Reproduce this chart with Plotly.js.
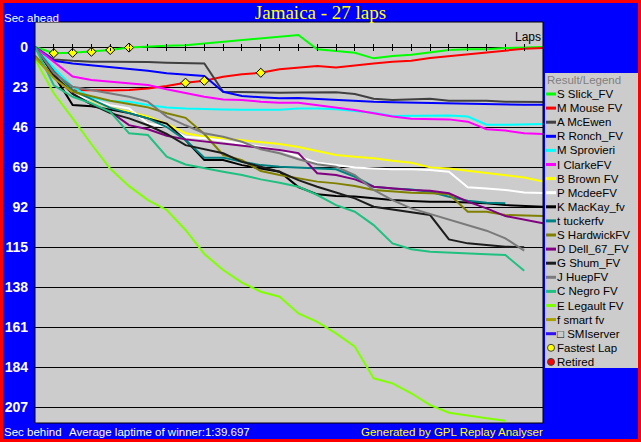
<!DOCTYPE html>
<html>
<head>
<meta charset="utf-8">
<script src="https://cdn.plot.ly/plotly-3.0.1.min.js"></script>
<style>
  html, body { margin: 0; padding: 0; background: #ff0000; overflow: hidden; }
  #chart { position: absolute; left: 3px; top: 3px; width: 635px; height: 436px; }
</style>
</head>
<body>
<div id="chart"></div>
<script>
// laps 0..27, values are seconds behind the winner's average pace (negative = ahead)
var laps = [0, 1, 2, 3, 4, 5, 6, 7, 8, 9, 10, 11, 12, 13, 14, 15, 16, 17, 18, 19, 20, 21, 22, 23, 24, 25, 26, 27];
var lapTicks = [1, 2, 3, 4, 5, 6, 7, 8, 9, 10, 11, 12, 13, 14, 15, 16, 17, 18, 19, 20, 21, 22, 23, 24, 25, 26];
var secTicks = [0, 23, 46, 69, 92, 115, 138, 161, 184, 207];

var drivers = ["S Slick_FV", "M Mouse FV", "A McEwen", "R Ronch_FV", "M Sprovieri", "I ClarkeFV",
  "B Brown FV", "P McdeeFV", "K MacKay_fv", "t tuckerfv", "S HardwickFV", "D Dell_67_FV",
  "G Shum_FV", "J HuepFV", "C Negro FV", "E Legault FV", "f smart fv", "\u25a1 SMIserver"];
var colors = ["#00ff00", "#ff0000", "#404040", "#0000ff", "#00ffff", "#ff00ff",
  "#ffff00", "#ffffff", "#000000", "#008080", "#808000", "#800080",
  "#1c1c1c", "#7a7a7a", "#20c080", "#80ff00", "#a8a000", "#3010f0"];

var slick = [0, 3.5, 3.3, 2.7, 1.7, 0.3, 0, -0.7, -1.1, -2.1, -2.9, -4, -5, -6.3, -6.9, 1.3, 2.5, 3.3, 6.5, 5.2, 4.4, 2.9, 1.7, 1.3, 1.2, 0.6, 0.2, 0];
var mouse = [0, 14, 24.7, 25, 25, 24.7, 23.8, 22.4, 20.5, 19.4, 17.1, 15.7, 14.8, 12.8, 11.9, 10.9, 11.7, 10.4, 9.4, 8.4, 7.9, 6.3, 5.2, 4, 2.9, 1.7, 1, 0.6];
var mcewen = [0, 7.1, 7.9, 8.4, 8.4, 8.4, 8.6, 9, 9.4, 9.4, 25.7, 26, 26.3, 26.3, 26.1, 26, 26, 27, 29.7, 30.5, 30, 29.7, 30.9, 30.9, 30.9, 31.4, 31.6, 31.6];
var ronch = [0, 7.9, 9.4, 10.4, 11.3, 12.3, 13.6, 15.1, 16.1, 16.7, 25.7, 28.2, 28.9, 29.5, 29.3, 29.9, 30.5, 31, 31.5, 31.8, 32, 32.2, 32.4, 32.8, 33.2, 33.2, 33.2, 33.2];
var sprovieri = [0, 12, 23, 29, 31, 31.4, 33.3, 34.7, 35.3, 35.7, 35.9, 36, 36, 36, 35.3, 35.3, 35.8, 36.6, 37.8, 39.7, 39.7, 39.7, 39.3, 40, 44.7, 44.7, 44.7, 44.3];
var clarke = [0, 8.4, 17, 19, 19.9, 20.9, 21.8, 24.3, 26.3, 28.6, 30.1, 30.5, 31.4, 32, 32, 33.3, 34.7, 36.2, 38.1, 40, 41.2, 41.4, 41.6, 42.9, 47.3, 48, 49.6, 50];
var brown = [0, 15, 25, 30.5, 35, 37.2, 40, 44, 49.6, 51.6, 52.5, 53.5, 54.5, 55.8, 57.5, 60, 62.1, 63.1, 64, 65.4, 66.5, 69.2, 69.8, 71.1, 72.3, 73.6, 75, 77.4];
var mcdee = [0, 15, 27.6, 30.1, 33.4, 35.3, 44, 46, 51.6, 52.5, 53.9, 55.4, 57.3, 59.2, 63, 66.5, 67.9, 69.2, 69.8, 70.3, 70.3, 70.7, 71.7, 80.7, 81.3, 82.2, 83.6, 84];
var mackay = [0, 16, 33.4, 34, 36, 38, 41, 44, 53.5, 65, 65, 67.9, 69.8, 71.7, 80.5, 84.7, 85.7, 86, 87, 88, 88.5, 89, 89, 89.5, 89.9, 90.9, 91.3, 91.8];
var tucker = [0, 14, 25, 30, 35, 38, 41, 46, 53.5, 63.6, 63.6, 66, 67.9, 68.8, 69.4, 69.6, 70.3, 74.6, 80.3, 81.3, 81.9, 83.2, 86.1, 88.4, 89.5, 89.9];
var hardwick = [5, 17, 25.7, 28.2, 30.9, 32.8, 34.7, 38.1, 40.7, 50, 62.1, 65, 71.3, 73.6, 75.5, 77.4, 78.4, 79.9, 82.2, 83.2, 83.8, 84.1, 84.5, 94.7, 94.7, 96.6, 96.8, 97.2];
var dell = [0, 16, 27, 33, 37.2, 44.9, 47.3, 51, 53.1, 54.4, 55.4, 56.7, 57.9, 59.2, 61, 72.6, 73.6, 76.1, 80.3, 81.3, 82.2, 82.6, 84.1, 88.9, 92.8, 97.2, 99.1, 101.4];
var shum = [0, 16, 27, 33, 38, 41, 45, 50, 56.4, 58.9, 61.1, 66, 68.8, 71.7, 76.5, 80.3, 83.6, 87, 91.8, 93.3, 94.9, 96.6, 110.6, 112.9, 113.8, 114.8, 115.2];
var huep = [0, 15, 22.8, 24.7, 26.6, 28.6, 31.4, 40, 45, 49.6, 51.6, 54.5, 58.8, 61.1, 64.5, 67.4, 68.8, 73.6, 82.2, 88, 92.8, 96, 99.1, 102.4, 105.6, 110, 117.1];
var negro = [0, 22, 28.6, 32.4, 37.2, 49.6, 50.6, 63.1, 67.5, 69.8, 71.7, 73.6, 76.1, 78, 80.3, 85.1, 90.9, 94.7, 102.4, 112.9, 116.3, 117.7, 118.3, 118.7, 119.2, 119.6, 128.6];
var legault = [7, 26.6, 41, 55.9, 70, 80, 88, 93.7, 105.2, 119, 128.2, 135.5, 140.7, 143.6, 153.2, 158, 164.7, 172.3, 190.5, 193.4, 199.1, 205.9, 210.3, 212, 213.5, 214.9];
var smart = [6, 18, 26];
var smiserver = [];

// fastest laps: driver index and lap
var fastDriver = [0, 0, 0, 0, 0, 1, 1, 1];
var fastLap = [1, 2, 3, 4, 5, 8, 9, 12];

var series = [slick, mouse, mcewen, ronch, sprovieri, clarke, brown, mcdee, mackay, tucker,
  hardwick, dell, shum, huep, negro, legault, smart, smiserver];

var yTop = -14.4, yBottom = 216.2;
var zeroPos = (yBottom - 0) / (yBottom - yTop);

var traces = [];
series.forEach(function (s, i) {
  traces.push({
    x: laps.slice(0, s.length), y: s, type: "scatter", mode: "lines",
    line: { color: colors[i], width: 2 }, hoverinfo: "skip", showlegend: false
  });
});
// second axis just for the downward lap ticks
traces.push({ x: [null], y: [null], xaxis: "x2", type: "scatter", mode: "lines", showlegend: false, hoverinfo: "skip" });
traces.push({
  x: fastLap,
  y: fastLap.map(function (l, i) { return series[fastDriver[i]][l]; }),
  type: "scatter", mode: "markers", hoverinfo: "skip", showlegend: false,
  marker: { symbol: "diamond", size: 7, color: "#ffff00", line: { color: "#000000", width: 1 } }
});

// pixel helpers for the hand-made legend and texts (plot area 35..543 x 22..423)
var PW = 508, PH = 401;
function px(x) { return (x - 35) / PW; }
function py(y) { return (423 - y) / PH; }

var shapes = [
  { type: "rect", xref: "paper", yref: "paper", x0: 0, x1: 1, y0: 0, y1: 1, line: { color: "#000", width: 1 }, layer: "above" },
  { type: "rect", xref: "paper", yref: "paper", x0: px(545), x1: px(640), y0: py(368), y1: py(73), fillcolor: "#cccccc", line: { width: 0 }, layer: "below" }
];
var annotations = [
  { xref: "paper", yref: "paper", x: px(545), y: py(80), xanchor: "left", yanchor: "middle", showarrow: false,
    text: "Result/Legend", font: { family: "Liberation Sans", size: 11.5, color: "#808080" } },
  { xref: "paper", yref: "paper", x: px(2), y: py(18), xanchor: "left", yanchor: "middle", showarrow: false,
    text: "Sec ahead", font: { family: "Liberation Sans", size: 11.5, color: "#ffffff" } },
  { xref: "paper", yref: "paper", x: px(2), y: py(432), xanchor: "left", yanchor: "middle", showarrow: false,
    text: "Sec behind", font: { family: "Liberation Sans", size: 11.5, color: "#ffffff" } },
  { xref: "paper", yref: "paper", x: px(67), y: py(432), xanchor: "left", yanchor: "middle", showarrow: false,
    text: "Average laptime of winner:1:39.697", font: { family: "Liberation Sans", size: 11.5, color: "#ffffff" } },
  { xref: "paper", yref: "paper", x: px(545), y: py(432), xanchor: "right", yanchor: "middle", showarrow: false,
    text: "Generated by GPL Replay Analyser", font: { family: "Liberation Sans", size: 11.5, color: "#ffff00" } },
  { xref: "x", yref: "y", x: 27, y: 0, xanchor: "right", yanchor: "bottom", showarrow: false, yshift: 1,
    text: "Laps", font: { family: "Liberation Sans", size: 12, color: "#000000" } }
];
drivers.forEach(function (name, i) {
  var yc = 94 + 14.1 * i;
  shapes.push({ type: "line", xref: "paper", yref: "paper", x0: px(546), x1: px(556), y0: py(yc), y1: py(yc),
    line: { color: colors[i], width: 3 }, layer: "above" });
  annotations.push({ xref: "paper", yref: "paper", x: px(555), y: py(yc), xanchor: "left", yanchor: "middle",
    showarrow: false, text: name, font: { family: "Liberation Sans", size: 11.5, color: "#000000" } });
});
[["Fastest Lap", "#ffff00"], ["Retired", "#ff0000"]].forEach(function (m, k) {
  var yc = 94 + 14.1 * (drivers.length + k);
  shapes.push({ type: "circle", xref: "paper", yref: "paper", x0: px(547.5), x1: px(554.5), y0: py(yc + 3.5), y1: py(yc - 3.5),
    fillcolor: m[1], line: { color: "#404040", width: 1 }, layer: "above" });
  annotations.push({ xref: "paper", yref: "paper", x: px(555), y: py(yc), xanchor: "left", yanchor: "middle",
    showarrow: false, text: m[0], font: { family: "Liberation Sans", size: 11.5, color: "#000000" } });
});

var layout = {
  width: 635, height: 436,
  margin: { l: 32, r: 95, t: 19, b: 16 },
  paper_bgcolor: "#0000ff", plot_bgcolor: "#cccccc",
  showlegend: false, hovermode: false,
  title: { text: "Jamaica - 27 laps", xref: "container", x: 0.5, xanchor: "center", yref: "container", y: 0.979, yanchor: "middle",
    font: { family: "Liberation Serif", size: 19, color: "#ffff00" } },
  xaxis: { range: [0, 27], anchor: "free", position: zeroPos, tickvals: lapTicks, ticks: "inside", ticklen: 3,
    tickcolor: "#000", showticklabels: false, showgrid: false, zeroline: false, showline: false, fixedrange: true },
  xaxis2: { range: [0, 27], overlaying: "x", anchor: "free", position: zeroPos, side: "bottom", tickvals: lapTicks,
    ticks: "outside", ticklen: 3, tickcolor: "#000", showticklabels: false, showgrid: false, zeroline: false, showline: false, fixedrange: true },
  yaxis: { range: [yBottom, yTop], tickvals: secTicks, ticktext: secTicks.map(String), ticks: "", ticklabelstandoff: 6,
    showgrid: true, gridcolor: "#000000", gridwidth: 1, zeroline: false, showline: false, fixedrange: true,
    tickfont: { family: "Liberation Sans", size: 14, color: "#ffffff", weight: "bold" } },
  shapes: shapes,
  annotations: annotations
};

window.onload = function () {
  Plotly.newPlot("chart", traces, layout, { displayModeBar: false, staticPlot: true });
};
</script>
</body>
</html>
